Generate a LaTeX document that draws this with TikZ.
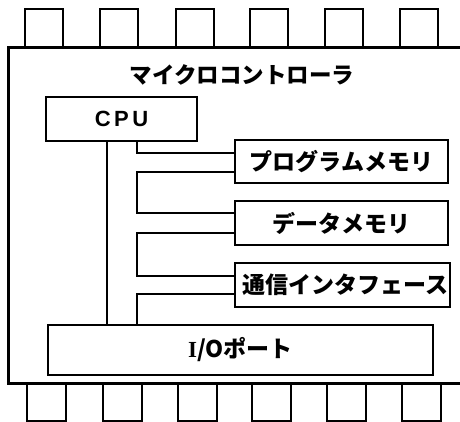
\documentclass[tikz,border=0pt]{standalone}
\usepackage{fontspec}
\newfontfamily\jp{Noto Sans CJK JP}
\newfontfamily\cpufont{Liberation Sans}[LetterSpace=16]
\newfontfamily\serifI{Liberation Serif}
\begin{document}
\begin{tikzpicture}[x=1pt,y=-1pt,
  blk/.style={draw,line width=1.1pt,inner sep=0pt,font=\jp\bfseries\fontsize{23}{26}\selectfont},
  wire/.style={line width=1.1pt},
  pin/.style={line width=1.6pt},
  chip/.style={line width=3pt}]
\useasboundingbox (0,0) rectangle (460,422);
% chip body
\draw[chip] (461,48) -- (8,48) -- (8,383) -- (461,383);
% top pins
\foreach \x in {25,100,176,250,325,400}
  \draw[pin] (\x,48) -- (\x,9) -- (\x+38,9) -- (\x+38,48);
% bottom pins
\foreach \x in {27,103,178,252,327,402}
  \draw[pin] (\x,383) -- (\x,421) -- (\x+39,421) -- (\x+39,383);
% title
\node[font=\jp\bfseries\fontsize{22.5}{25}\selectfont] (title) at (242,75) {マイクロコントローラ};
% blocks
\node[blk,minimum width=151pt,minimum height=44pt,font=\cpufont\bfseries\fontsize{22}{25}\selectfont] (cpu) at (121.5,119) {CPU};
\node[blk,minimum width=213pt,minimum height=43pt] (pm) at (341.5,161.5) {プログラムメモリ};
\node[blk,minimum width=213pt,minimum height=44pt] (dm) at (341.5,223) {データメモリ};
\node[blk,minimum width=215pt,minimum height=44pt] (ci) at (342.5,285) {\hspace*{6pt}通信インタフェース};
\node[blk,minimum width=385pt,minimum height=50pt] (io) at (240.5,350) {{\serifI\bfseries I}/Oポート};
% bus
\coordinate (bx) at (137,0);
\coordinate (c1) at (137,153);
\coordinate (c2) at (137,172);
\coordinate (c3) at (137,213);
\coordinate (c4) at (137,233);
\coordinate (c5) at (137,276);
\coordinate (c6) at (137,294);
\coordinate (vx) at (107,0);
\draw[wire] (cpu.south -| bx) -- (c1) -- (pm.west |- c1);
\draw[wire] (pm.west |- c2) -- (c2) -- (c3) -- (dm.west |- c3);
\draw[wire] (dm.west |- c4) -- (c4) -- (c5) -- (ci.west |- c5);
\draw[wire] (ci.west |- c6) -- (c6) -- (io.north -| bx);
\draw[wire] (cpu.south -| vx) -- (io.north -| vx);
\end{tikzpicture}
\end{document}
